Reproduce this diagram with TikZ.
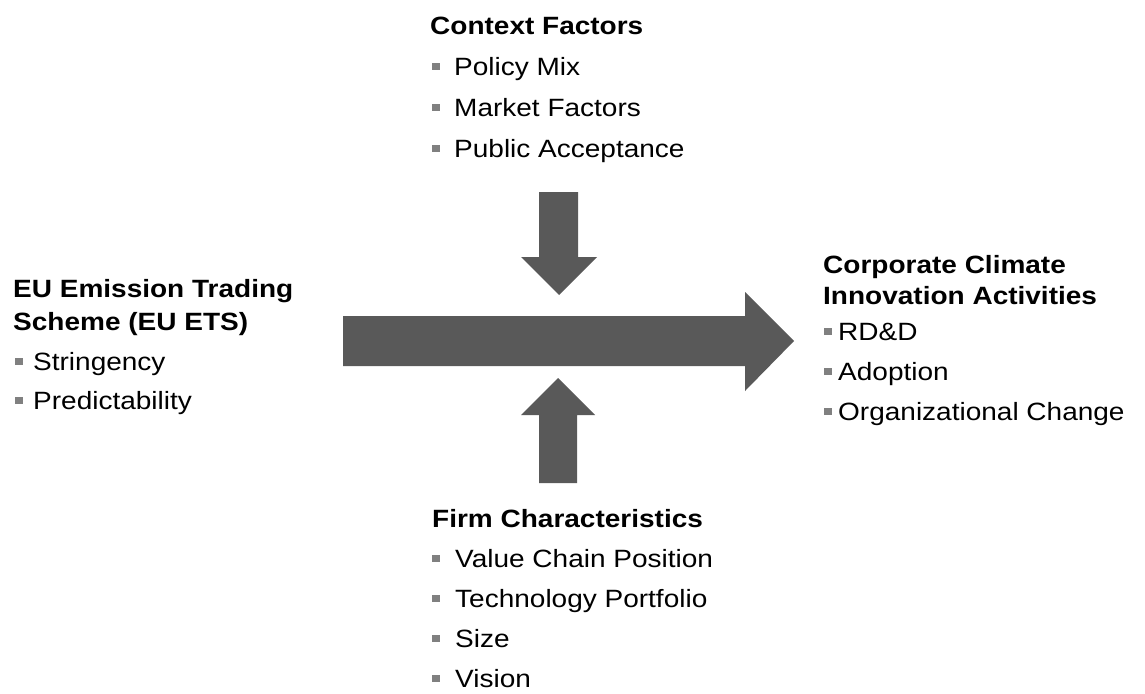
\documentclass[tikz,border=0pt]{standalone}
\usepackage{fontspec}
\setmainfont{Liberation Sans}[FakeStretch=1.12]
\usetikzlibrary{positioning}
\definecolor{arrowgray}{RGB}{89,89,89}
\definecolor{bulletgray}{RGB}{128,128,128}
\tikzset{
  headtxt/.style   = {anchor=base west, inner sep=0pt, font=\fontsize{25}{32}\selectfont\bfseries},
  itemtxt/.style   = {anchor=base west, inner sep=0pt, font=\fontsize{25}{30}\selectfont},
  bulletbox/.style = {rectangle, fill=bulletgray, minimum width=8pt, minimum height=7.5pt, inner sep=0pt},
  blockarrow/.style = {fill=arrowgray},
}
% one bullet line: name, bullet x, text x, baseline y, text
\newcommand{\bulletline}[5]{%
  \node[bulletbox] (#1-b) at (#2,#4-8.5) {};
  \node[itemtxt] (#1) at (#3,#4) {#5};
}

\begin{document}
\begin{tikzpicture}[x=1pt, y=-1pt]
\useasboundingbox (0,0) rectangle (1145,693);

% === block arrows ===
% main arrow: EU ETS -> innovation
\fill[blockarrow] (343,316) -- (745,316) -- (745,292) -- (794,341)
  -- (745,391) -- (745,366) -- (343,366) -- cycle;
% context factors arrow (down)
\fill[blockarrow] (539,192) -- (578,192) -- (578,257) -- (597,257)
  -- (559,295) -- (521,257) -- (539,257) -- cycle;
% firm characteristics arrow (up)
\fill[blockarrow] (539,483) -- (577,483) -- (577,415) -- (595,415)
  -- (558,378) -- (521,415) -- (539,415) -- cycle;

% === EU ETS ===
\node[headtxt] (ets1) at (13,297) {EU Emission Trading};
\node[headtxt] (ets2) at (13,330) {Scheme (EU ETS)};
\bulletline{stri}{19}{33}{370}{Stringency}
\bulletline{pred}{19}{33}{409}{Predictability}

% === context factors ===
\node[headtxt] (ctx) at (430,35) {Context Factors};
\bulletline{pmix}{436}{454}{75}{Policy Mix}
\bulletline{mkt}{436}{454}{116}{Market Factors}
\bulletline{pub}{436}{454}{157}{Public Acceptance}

% === firm characteristics ===
\node[headtxt] (firm) at (432,527) {Firm Characteristics};
\bulletline{vcp}{436}{455}{567}{Value Chain Position}
\bulletline{tech}{436}{455}{607}{Technology Portfolio}
\bulletline{size}{436}{455}{647}{Size}
\bulletline{vis}{436}{455}{687}{Vision}

% === corporate climate innovation ===
\node[headtxt] (cci1) at (823,273) {Corporate Climate};
\node[headtxt] (cci2) at (823,304) {Innovation Activities};
\bulletline{rdd}{828}{838}{340}{RD\&D}
\bulletline{adop}{828}{838}{380}{Adoption}
\bulletline{org}{828}{838}{420}{Organizational Change}

\end{tikzpicture}
\end{document}
